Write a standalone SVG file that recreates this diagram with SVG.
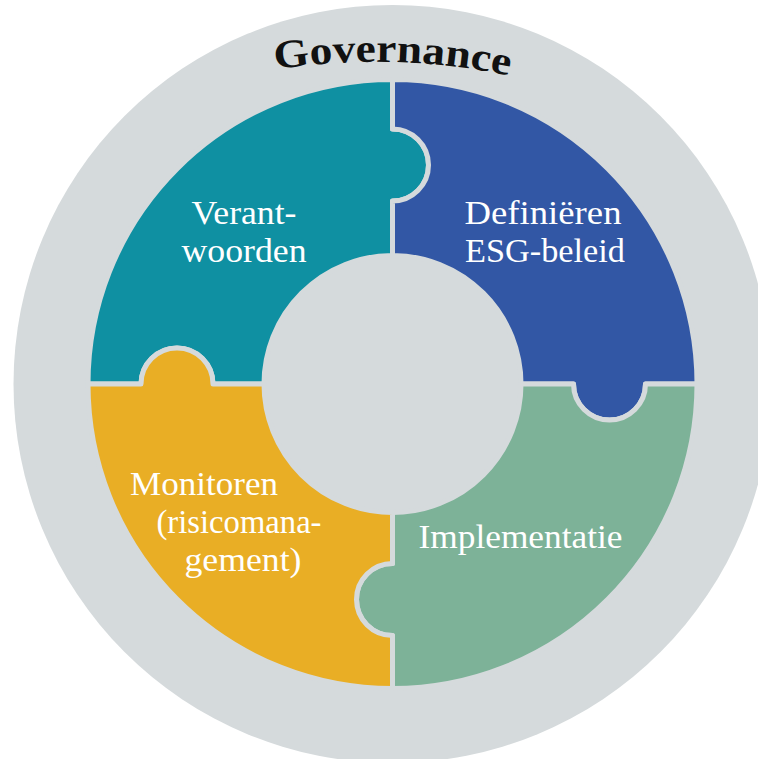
<svg xmlns="http://www.w3.org/2000/svg" width="758" height="759" viewBox="0 0 758 759">
  <style>
    .piece { stroke: #d5dadc; stroke-width: 5; stroke-linejoin: round; }
    .lbl { font-family: "Liberation Serif", "Times New Roman", serif; font-size: 33px; fill: #ffffff; text-anchor: middle; }
    .title { font-family: "Liberation Serif", "Times New Roman", serif; font-size: 40px; font-weight: bold; fill: #111111; text-anchor: middle; }
  </style>
  <defs>
    <path id="govArc" d="M 142.5 112 A 650 650 0 0 1 642.5 112"/>
  </defs>
  <rect width="758" height="759" fill="#ffffff"/>
  <g id="governance">
    <circle cx="392.5" cy="384" r="379" fill="#d5dadc"/>
    <text class="title" transform="rotate(1.5 392.5 62)"><textPath href="#govArc" startOffset="50%" textLength="235" lengthAdjust="spacingAndGlyphs">Governance</textPath></text>
  </g>
  <g id="connectors"/>
  <g id="verantwoorden">
    <path class="piece" fill="#0f90a2" d="M 88 384 L 141 384 A 36 36 0 0 1 213 384 L 264 384 A 128.5 128.5 0 0 1 392.5 255.5 L 392.5 201 A 36 36 0 0 0 392.5 129 L 392.5 79.5 A 304.5 304.5 0 0 0 88 384 Z"/>
    <text class="lbl" x="244" y="224" textLength="105" lengthAdjust="spacingAndGlyphs">Verant-</text>
    <text class="lbl" x="244" y="262" textLength="125" lengthAdjust="spacingAndGlyphs">woorden</text>
  </g>
  <g id="definieren">
    <path class="piece" fill="#3257a5" d="M 392.5 79.5 A 304.5 304.5 0 0 1 697 384 L 645.5 384 A 36 36 0 0 1 573.5 384 L 521 384 A 128.5 128.5 0 0 0 392.5 255.5 L 392.5 201 A 36 36 0 0 0 392.5 129 Z"/>
    <text class="lbl" x="543" y="224" textLength="157" lengthAdjust="spacingAndGlyphs">Definiëren</text>
    <text class="lbl" x="545" y="262" textLength="160" lengthAdjust="spacingAndGlyphs">ESG-beleid</text>
  </g>
  <g id="implementatie">
    <path class="piece" fill="#7db298" d="M 697 384 L 645.5 384 A 36 36 0 0 1 573.5 384 L 521 384 A 128.5 128.5 0 0 1 392.5 512.5 L 392.5 563.5 A 36 36 0 0 0 392.5 635.5 L 392.5 688.5 A 304.5 304.5 0 0 0 697 384 Z"/>
    <text class="lbl" x="520.5" y="548" textLength="204" lengthAdjust="spacingAndGlyphs">Implementatie</text>
  </g>
  <g id="monitoren">
    <path class="piece" fill="#e9ae25" d="M 88 384 L 141 384 A 36 36 0 0 1 213 384 L 264 384 A 128.5 128.5 0 0 0 392.5 512.5 L 392.5 563.5 A 36 36 0 0 0 392.5 635.5 L 392.5 688.5 A 304.5 304.5 0 0 1 88 384 Z"/>
    <text class="lbl" x="204" y="495" textLength="148" lengthAdjust="spacingAndGlyphs">Monitoren</text>
    <text class="lbl" x="239" y="533" textLength="165" lengthAdjust="spacingAndGlyphs">(risicomana-</text>
    <text class="lbl" x="243" y="571" textLength="117" lengthAdjust="spacingAndGlyphs">gement)</text>
  </g>
</svg>
